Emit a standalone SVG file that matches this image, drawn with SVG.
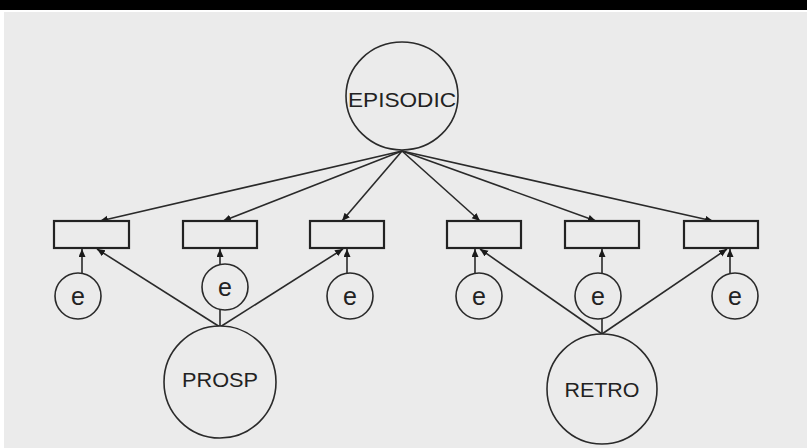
<svg xmlns="http://www.w3.org/2000/svg" width="807" height="448" viewBox="0 0 807 448">
<defs>
<style>
.bg{fill:#ebebeb}
.node{fill:#ebebeb;stroke:#2a2a2a;stroke-width:1.6}
.box{fill:#ebebeb;stroke:#222;stroke-width:2.2}
.lbl{font-family:"Liberation Sans",Arial,sans-serif;font-size:21px;fill:#222;text-anchor:middle}
.e{font-family:"Liberation Sans",Arial,sans-serif;font-size:25px;fill:#222;text-anchor:middle}
.c{stroke:#2a2a2a;stroke-width:1.6;fill:none}
</style>
<marker id="ah" markerUnits="userSpaceOnUse" markerWidth="10" markerHeight="8" refX="8" refY="3.5" orient="auto">
<path d="M0,0 L8,3.5 L0,7 z" fill="#1a1a1a"/>
</marker>
</defs>
<rect x="0" y="0" width="807" height="448" fill="#ffffff"/>
<rect x="0" y="0" width="807" height="10" fill="#000"/>
<rect class="bg" x="4" y="12" width="803" height="436"/>
<g id="connectors">
<line class="c" x1="402" y1="151" x2="100" y2="221" marker-end="url(#ah)"/>
<line class="c" x1="402" y1="151" x2="223" y2="221" marker-end="url(#ah)"/>
<line class="c" x1="402" y1="151" x2="342" y2="221" marker-end="url(#ah)"/>
<line class="c" x1="402" y1="151" x2="480" y2="221" marker-end="url(#ah)"/>
<line class="c" x1="402" y1="151" x2="596" y2="221" marker-end="url(#ah)"/>
<line class="c" x1="402" y1="151" x2="713" y2="221" marker-end="url(#ah)"/>
<line class="c" x1="82" y1="273" x2="82" y2="249" marker-end="url(#ah)"/>
<line class="c" x1="220" y1="264" x2="220" y2="249" marker-end="url(#ah)"/>
<line class="c" x1="347" y1="274" x2="347" y2="249" marker-end="url(#ah)"/>
<line class="c" x1="475" y1="273" x2="475" y2="249" marker-end="url(#ah)"/>
<line class="c" x1="602" y1="273" x2="602" y2="249" marker-end="url(#ah)"/>
<line class="c" x1="730" y1="273" x2="730" y2="249" marker-end="url(#ah)"/>
<line class="c" x1="220" y1="327" x2="97" y2="249" marker-end="url(#ah)"/>
<line class="c" x1="220" y1="327" x2="343" y2="249" marker-end="url(#ah)"/>
<line class="c" x1="220" y1="327" x2="220" y2="310"/>
<line class="c" x1="602" y1="334" x2="480" y2="249" marker-end="url(#ah)"/>
<line class="c" x1="602" y1="334" x2="727" y2="249" marker-end="url(#ah)"/>
<line class="c" x1="602" y1="334" x2="602" y2="319"/>
</g>
<g id="episodic">
<ellipse class="node" cx="402" cy="96" rx="56" ry="54"/>
<text class="lbl" x="402" y="107" textLength="108" lengthAdjust="spacingAndGlyphs">EPISODIC</text>
</g>
<g id="prosp">
<circle class="node" cx="220" cy="382" r="56"/>
<text class="lbl" x="220" y="387" textLength="76" lengthAdjust="spacingAndGlyphs">PROSP</text>
</g>
<g id="retro">
<circle class="node" cx="602" cy="389" r="55"/>
<text class="lbl" x="602" y="397" textLength="75" lengthAdjust="spacingAndGlyphs">RETRO</text>
</g>
<g id="v1"><rect class="box" x="54" y="221" width="75" height="27"/></g>
<g id="v2"><rect class="box" x="183" y="221" width="74" height="27"/></g>
<g id="v3"><rect class="box" x="310" y="221" width="74" height="27"/></g>
<g id="v4"><rect class="box" x="447" y="221" width="74" height="27"/></g>
<g id="v5"><rect class="box" x="565" y="221" width="74" height="27"/></g>
<g id="v6"><rect class="box" x="684" y="221" width="74" height="27"/></g>
<g id="e1"><circle class="node" cx="78" cy="296" r="23"/><text class="e" x="78" y="305">e</text></g>
<g id="e2"><circle class="node" cx="225" cy="287" r="23"/><text class="e" x="225" y="296">e</text></g>
<g id="e3"><circle class="node" cx="350" cy="296" r="23"/><text class="e" x="350" y="305">e</text></g>
<g id="e4"><circle class="node" cx="479" cy="296" r="23"/><text class="e" x="479" y="305">e</text></g>
<g id="e5"><circle class="node" cx="598" cy="296" r="23"/><text class="e" x="598" y="305">e</text></g>
<g id="e6"><circle class="node" cx="735" cy="296" r="23"/><text class="e" x="735" y="305">e</text></g>
</svg>
